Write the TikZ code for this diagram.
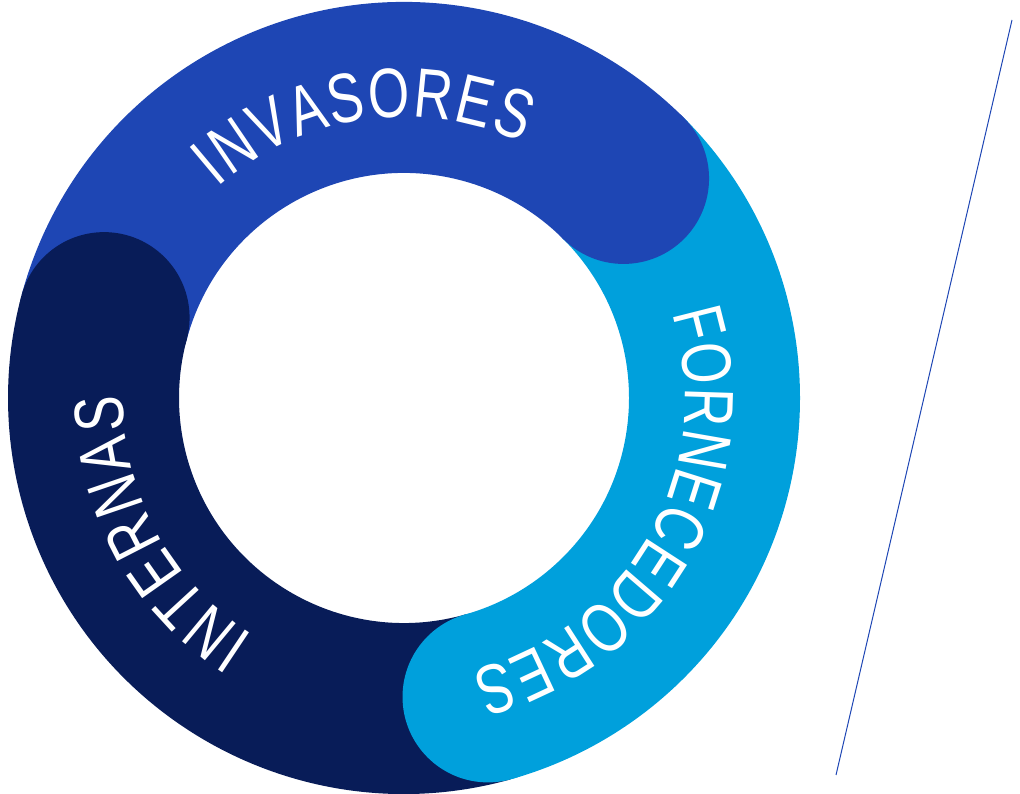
\documentclass[tikz,border=0pt]{standalone}
\usepackage{tikz}
\usepackage{xcolor}
\usepackage{fontspec}
\usetikzlibrary{decorations.text}

\newfontfamily\ringfam[FakeStretch=0.76]{Liberation Sans}
\newcommand{\ringfont}{\ringfam\fontsize{70}{70}\selectfont}

\definecolor{navy}{HTML}{081C58}
\definecolor{royal}{HTML}{1E46B4}
\definecolor{sky}{HTML}{00A0DC}

\begin{document}
\begin{tikzpicture}[x=1pt, y=1pt,
    seg/.style = {line width=171pt},
    ringtext/.style = {decorate, decoration={text along path,
      text color=white, text align={fit to path},
      text={|\ringfont|#1}}}]
  \useasboundingbox (0,0) rectangle (1020,794);
  \coordinate (c) at (404,396);
  \coordinate (slashtop) at (1012,774);
  \coordinate (slashbot) at (836,19);

  % ring segments
  \draw[seg, royal] (c) ++(165:310.5pt) arc[start angle=165, end angle=45, radius=310.5pt];
  \draw[seg, sky] (c) ++(45:310.5pt) arc[start angle=45, end angle=-74.3, radius=310.5pt];
  \draw[seg, navy] (c) ++(-74.3:310.5pt) arc[start angle=-74.3, end angle=-195, radius=310.5pt];

  % round ends
  \fill[navy] (c) ++(165:310.5pt) circle[radius=85.5pt];
  \fill[royal] (c) ++(45:310.5pt) circle[radius=85.5pt];
  \fill[sky] (c) ++(-74.3:310.5pt) circle[radius=85.5pt];

  % labels
  \path[ringtext=INVASORES] (c) ++(131.5:281pt) arc[start angle=131.5, end angle=65.2, radius=281pt];
  \path[ringtext=FORNECEDORES] (c) ++(17.5:281pt) arc[start angle=17.5, end angle=-76, radius=281pt];
  \path[ringtext=INTERNAS] (c) ++(237.7:281pt) arc[start angle=237.7, end angle=179.5, radius=281pt];

  \draw[royal, line width=1pt] (slashtop) -- (slashbot);
\end{tikzpicture}
\end{document}
